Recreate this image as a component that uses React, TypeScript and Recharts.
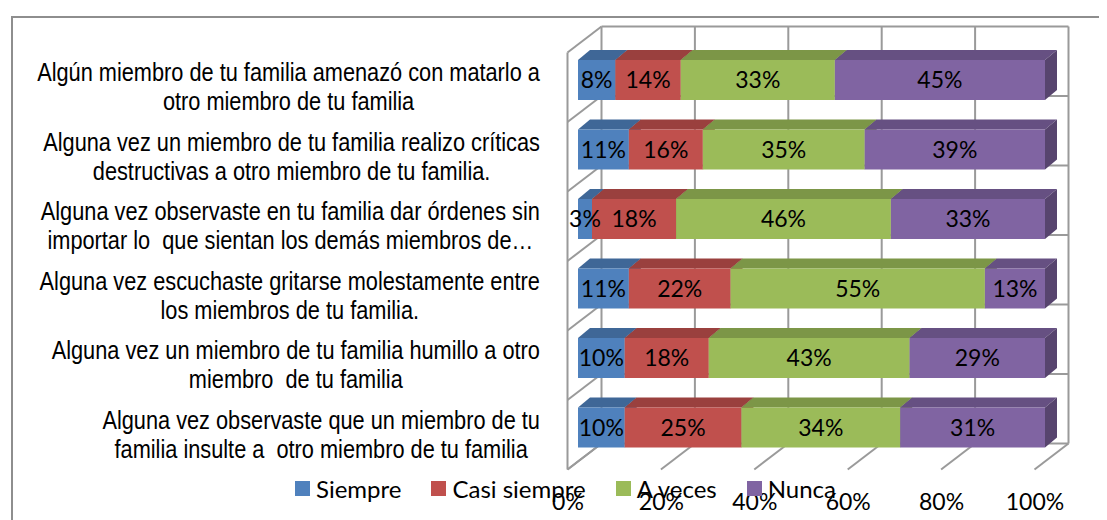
import { Bar, BarChart, CartesianGrid, LabelList, Legend, XAxis, YAxis } from "recharts";

// category labels (already wrapped as in the original, "|" = line break)
const questions = [
  "Algún miembro de tu familia amenazó con matarlo a|otro miembro de tu familia",
  "Alguna vez un miembro de tu familia realizo críticas|destructivas a otro miembro de tu familia.",
  "Alguna vez observaste en tu familia dar órdenes sin|importar lo  que sientan los demás miembros de…",
  "Alguna vez escuchaste gritarse molestamente entre|los miembros de tu familia.",
  "Alguna vez un miembro de tu familia humillo a otro|miembro  de tu familia",
  "Alguna vez observaste que un miembro de tu|familia insulte a  otro miembro de tu familia",
];

const siempre = [8, 11, 3, 11, 10, 10];
const casiSiempre = [14, 16, 18, 22, 18, 25];
const aVeces = [33, 35, 46, 55, 43, 34];
const nunca = [45, 39, 33, 13, 29, 31];

const xTicks = [0, 0.2, 0.4, 0.6, 0.8, 1];

const SERIES = [
  { key: "siempre", name: "Siempre", color: "#4F81BD" },
  { key: "casiSiempre", name: "Casi siempre", color: "#C0504D" },
  { key: "aVeces", name: "A veces", color: "#9BBB59" },
  { key: "nunca", name: "Nunca", color: "#8064A2" },
];

const rows = questions.map((q, i) => ({
  q,
  siempre: siempre[i],
  casiSiempre: casiSiempre[i],
  aVeces: aVeces[i],
  nunca: nunca[i],
}));

const LABEL_FONT = "'Liberation Sans', Arial, sans-serif";
const LABEL_SCALE = 0.87; // the original uses a narrow face
const NUM_FONT = "Lato, 'Open Sans', sans-serif";
const GRID = "#9a9a9a";

// 3d depth of bars and of the walls, relative to the bar plane
const BAR_DX = 12;
const BAR_DY = 10;
const FRONT_DX = -10.5;
const FRONT_DY = 7.5;
const BACK_DX = 23.5;
const BACK_DY = -18.5;

function shade(hex: string, f: number) {
  const n = parseInt(hex.slice(1), 16);
  const r = Math.round(((n >> 16) & 255) * f);
  const g = Math.round(((n >> 8) & 255) * f);
  const b = Math.round((n & 255) * f);
  return `rgb(${r},${g},${b})`;
}

let ctx: CanvasRenderingContext2D | null = null;
function measure(text: string) {
  if (!ctx) ctx = document.createElement("canvas").getContext("2d");
  if (!ctx) return text.length * 10;
  ctx.font = `25px ${LABEL_FONT}`;
  return ctx.measureText(text).width;
}

function Bar3D(props: any) {
  const { x, y, width, height, fill } = props;
  if (!width || width <= 0) return <g />;
  const top = shade(fill, 0.8);
  const side = shade(fill, 0.68);
  return (
    <g>
      <polygon
        points={`${x},${y} ${x + BAR_DX},${y - BAR_DY} ${x + width + BAR_DX},${y - BAR_DY} ${x + width},${y}`}
        fill={top}
      />
      <polygon
        points={`${x + width},${y} ${x + width + BAR_DX},${y - BAR_DY} ${x + width + BAR_DX},${y + height - BAR_DY} ${x + width},${y + height}`}
        fill={side}
      />
      <rect x={x} y={y} width={width} height={height} fill={fill} />
    </g>
  );
}

function QuestionTick({ x, y, payload }: any) {
  const lines = String(payload.value).split("|");
  const w = Math.max(...lines.map(measure)) * LABEL_SCALE;
  const cx = x - 38 - w / 2;
  const cy = y + 7;
  return (
    <text
      transform={`translate(${cx},${cy}) scale(${LABEL_SCALE},1)`}
      textAnchor="middle"
      fontFamily={LABEL_FONT}
      fontSize={25}
      fill="#000"
      style={{ whiteSpace: "pre" }}
    >
      {lines.map((l, i) => (
        <tspan key={i} x={0} y={(i - (lines.length - 1) / 2) * 29 + 9}>
          {l}
        </tspan>
      ))}
    </text>
  );
}

function PercentTick({ x, y, payload }: any) {
  return (
    <text x={x - 10} y={y + 48} textAnchor="middle" fontFamily={NUM_FONT} fontSize={23} fill="#000">
      {`${Math.round(payload.value * 100)}%`}
    </text>
  );
}

// back wall verticals + floor diagonals
function wallVertical(props: any) {
  const { x1, y1, y2, index } = props;
  return (
    <g key={`v-${index}`} stroke={GRID} strokeWidth={2} fill="none">
      <line x1={x1 + BACK_DX} y1={y1 + BACK_DY} x2={x1 + BACK_DX} y2={y2 + BACK_DY} />
      <line x1={x1 + FRONT_DX} y1={y2 + FRONT_DY} x2={x1 + BACK_DX} y2={y2 + BACK_DY} />
      {index === 0 && <line x1={x1 + FRONT_DX} y1={y1 + FRONT_DY} x2={x1 + FRONT_DX} y2={y2 + FRONT_DY} />}
    </g>
  );
}

// left wall diagonals + back wall horizontals at category boundaries
function wallHorizontal(props: any) {
  const { x1, x2, y1, index } = props;
  return (
    <g key={`h-${index}`} stroke={GRID} strokeWidth={2} fill="none">
      <line x1={x1 + FRONT_DX} y1={y1 + FRONT_DY} x2={x1 + BACK_DX} y2={y1 + BACK_DY} />
      <line x1={x1 + BACK_DX} y1={y1 + BACK_DY} x2={x2 + BACK_DX} y2={y1 + BACK_DY} />
    </g>
  );
}

function LegendContent({ payload }: any) {
  const order = SERIES.map((s) => s.name);
  const items = [...(payload || [])].sort((a: any, b: any) => order.indexOf(a.value) - order.indexOf(b.value));
  return (
    <div style={{ display: "flex", alignItems: "center", height: 28, fontFamily: NUM_FONT, fontSize: 24, color: "#000" }}>
      {items.map((p: any) => (
        <div key={p.value} style={{ display: "flex", alignItems: "center", marginRight: 30 }}>
          <span style={{ width: 15, height: 15, background: p.color, marginRight: 6, display: "inline-block" }} />
          <span>{p.value}</span>
        </div>
      ))}
    </div>
  );
}

export default function App() {
  return (
    <div style={{ position: "relative", width: 1099, height: 512, overflow: "hidden", background: "#fff" }}>
      <div
        style={{
          position: "absolute",
          left: 3,
          top: 8,
          right: -20,
          bottom: -20,
          borderLeft: "2px solid #8e8e8e",
          borderTop: "2px solid #8e8e8e",
        }}
      />
      <BarChart
        width={1099}
        height={512}
        data={rows}
        layout="vertical"
        stackOffset="expand"
        barSize={40}
        margin={{ top: 37, right: 62, bottom: 28, left: 20 }}
        style={{ position: "absolute", left: 0, top: 0 }}
      >
        <CartesianGrid
          fill="none"
          vertical={wallVertical}
          horizontal={wallHorizontal}
          horizontalCoordinatesGenerator={({ offset }: any) =>
            questions.map((_, i) => offset.top + (offset.height * i) / questions.length).concat(offset.top + offset.height)
          }
        />
        <XAxis
          type="number"
          domain={[0, 1]}
          ticks={xTicks}
          axisLine={false}
          tickLine={false}
          tickSize={0}
          tickMargin={0}
          height={30}
          tick={<PercentTick />}
          interval={0}
        />
        <YAxis
          type="category"
          dataKey="q"
          width={550}
          axisLine={false}
          tickLine={false}
          tickSize={0}
          tickMargin={0}
          tick={<QuestionTick />}
          interval={0}
        />
        <Legend
          layout="horizontal"
          verticalAlign="middle"
          align="center"
          content={<LegendContent />}
          wrapperStyle={{ left: 287, top: 466, width: 640, height: 28 }}
        />
        {SERIES.map((s) => (
          <Bar key={s.key} dataKey={s.key} name={s.name} stackId="a" fill={s.color} shape={<Bar3D />} isAnimationActive={false}>
            <LabelList
              dataKey={s.key}
              position="center"
              formatter={(v: any) => `${v}%`}
              fill="#000"
              fontFamily={NUM_FONT}
              fontSize={23}
            />
          </Bar>
        ))}
      </BarChart>
    </div>
  );
}
